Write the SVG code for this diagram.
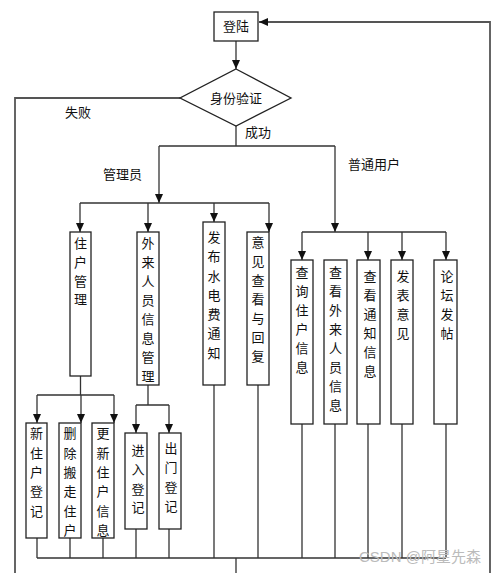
<svg xmlns="http://www.w3.org/2000/svg" width="499" height="573" viewBox="0 0 499 573">
<style>
.box{fill:#fff;stroke:#222;stroke-width:1.3}
.ln{fill:none;stroke:#333;stroke-width:1.3}
.loop{fill:none;stroke:#555;stroke-width:1.8}
.t{font-family:"Noto Sans CJK SC","Noto Sans CJK TC",sans-serif;font-size:13px;fill:#111}
.tc{text-anchor:middle}
.wm{font-family:"Liberation Sans","Noto Sans CJK SC",sans-serif;font-size:15px;fill:#bbb}
</style>
<defs>
<marker id="ah" markerUnits="userSpaceOnUse" markerWidth="10" markerHeight="10" refX="9" refY="4" orient="auto">
<path d="M0,0 L9,4 L0,8 Z" fill="#111"/>
</marker>
</defs>
<rect width="499" height="573" fill="#fff"/>
<g id="connectors">
<path class="ln" d="M236,41 V69" marker-end="url(#ah)"/>
<path class="loop" d="M180,98 H15 V573"/>
<path class="loop" d="M490,573 V22 H259" marker-end="url(#ah)"/>
<path class="ln" d="M236,126 V146 M159,146 H335"/>
<path class="ln" d="M159,146 V203" marker-end="url(#ah)"/>
<path class="ln" d="M80,203 H269"/>
<path class="ln" d="M80,203 V232" marker-end="url(#ah)"/>
<path class="ln" d="M148,203 V232" marker-end="url(#ah)"/>
<path class="ln" d="M214,203 V222" marker-end="url(#ah)"/>
<path class="ln" d="M269,203 V232" marker-end="url(#ah)"/>
<path class="ln" d="M335,146 V232" marker-end="url(#ah)"/>
<path class="ln" d="M302,232 H446"/>
<path class="ln" d="M302,232 V260" marker-end="url(#ah)"/>
<path class="ln" d="M368,232 V260" marker-end="url(#ah)"/>
<path class="ln" d="M402,232 V260" marker-end="url(#ah)"/>
<path class="ln" d="M446,232 V260" marker-end="url(#ah)"/>
<path class="ln" d="M80.5,376 V395 M37,395 H114"/>
<path class="ln" d="M37,395 V423" marker-end="url(#ah)"/>
<path class="ln" d="M81,395 V423" marker-end="url(#ah)"/>
<path class="ln" d="M114,395 V423" marker-end="url(#ah)"/>
<path class="ln" d="M148,385 V405 M136,405 H169"/>
<path class="ln" d="M136,405 V433" marker-end="url(#ah)"/>
<path class="ln" d="M169,405 V433" marker-end="url(#ah)"/>
<path class="ln" d="M37,538 V558 M70,538 V558 M103,538 V558 M136,529 V558 M169,529 V558 M214,385 V558 M258,385 V558 M302,424 V558 M335,424 V558 M368,424 V558 M402,424 V558 M446,424 V558"/>
<path class="ln" d="M37,558 H446 M236,558 V573"/>
</g>
<g id="labels">
<text class="t tc" x="78" y="117">失败</text>
<text class="t" x="245" y="137">成功</text>
<text class="t" x="103" y="179">管理员</text>
<text class="t" x="348" y="169">普通用户</text>
</g>
<g id="login">
<rect class="box" x="214" y="12" width="44" height="29"/>
<text class="t tc" x="236" y="31">登陆</text>
</g>
<g id="auth">
<polygon class="box" points="236,69 291,98 236,126 180,98"/>
<text class="t tc" x="236" y="103">身份验证</text>
</g>
<g id="resident-mgmt">
<rect class="box" x="70" y="232" width="21" height="144"/>
<text class="t tc"><tspan x="80.5" y="248">住</tspan><tspan x="80.5" y="267">户</tspan><tspan x="80.5" y="286">管</tspan><tspan x="80.5" y="304">理</tspan></text>
</g>
<g id="visitor-mgmt">
<rect class="box" x="137" y="232" width="22" height="153"/>
<text class="t tc"><tspan x="148" y="248">外</tspan><tspan x="148" y="267">来</tspan><tspan x="148" y="286">人</tspan><tspan x="148" y="305">员</tspan><tspan x="148" y="324">信</tspan><tspan x="148" y="343">息</tspan><tspan x="148" y="362">管</tspan><tspan x="148" y="381">理</tspan></text>
</g>
<g id="publish-notice">
<rect class="box" x="203" y="222" width="22" height="163"/>
<text class="t tc"><tspan x="214" y="242">发</tspan><tspan x="214" y="261">布</tspan><tspan x="214" y="281">水</tspan><tspan x="214" y="300">电</tspan><tspan x="214" y="319">费</tspan><tspan x="214" y="338">通</tspan><tspan x="214" y="358">知</tspan></text>
</g>
<g id="feedback-reply">
<rect class="box" x="247" y="232" width="22" height="153"/>
<text class="t tc"><tspan x="258" y="247">意</tspan><tspan x="258" y="266">见</tspan><tspan x="258" y="285">查</tspan><tspan x="258" y="304">看</tspan><tspan x="258" y="323">与</tspan><tspan x="258" y="342">回</tspan><tspan x="258" y="361">复</tspan></text>
</g>
<g id="new-resident">
<rect class="box" x="26" y="423" width="21" height="115"/>
<text class="t tc"><tspan x="36.5" y="438">新</tspan><tspan x="36.5" y="458">住</tspan><tspan x="36.5" y="477">户</tspan><tspan x="36.5" y="496">登</tspan><tspan x="36.5" y="516">记</tspan></text>
</g>
<g id="delete-resident">
<rect class="box" x="59" y="423" width="22" height="115"/>
<text class="t tc"><tspan x="70" y="438">删</tspan><tspan x="70" y="458">除</tspan><tspan x="70" y="477">搬</tspan><tspan x="70" y="496">走</tspan><tspan x="70" y="516">住</tspan><tspan x="70" y="535">户</tspan></text>
</g>
<g id="update-resident">
<rect class="box" x="92" y="423" width="22" height="115"/>
<text class="t tc"><tspan x="103" y="438">更</tspan><tspan x="103" y="458">新</tspan><tspan x="103" y="477">住</tspan><tspan x="103" y="496">户</tspan><tspan x="103" y="516">信</tspan><tspan x="103" y="535">息</tspan></text>
</g>
<g id="entry-log">
<rect class="box" x="125" y="433" width="22" height="96"/>
<text class="t tc"><tspan x="138" y="455">进</tspan><tspan x="138" y="474">入</tspan><tspan x="138" y="494">登</tspan><tspan x="138" y="512">记</tspan></text>
</g>
<g id="exit-log">
<rect class="box" x="159" y="433" width="22" height="96"/>
<text class="t tc"><tspan x="171" y="453">出</tspan><tspan x="171" y="472">门</tspan><tspan x="171" y="492">登</tspan><tspan x="171" y="511">记</tspan></text>
</g>
<g id="query-resident">
<rect class="box" x="291" y="260" width="22" height="164"/>
<text class="t tc"><tspan x="302" y="277">查</tspan><tspan x="302" y="296">询</tspan><tspan x="302" y="315">住</tspan><tspan x="302" y="334">户</tspan><tspan x="302" y="353">信</tspan><tspan x="302" y="372">息</tspan></text>
</g>
<g id="view-visitor">
<rect class="box" x="324" y="260" width="23" height="164"/>
<text class="t tc"><tspan x="335.5" y="277">查</tspan><tspan x="335.5" y="296">看</tspan><tspan x="335.5" y="315">外</tspan><tspan x="335.5" y="334">来</tspan><tspan x="335.5" y="353">人</tspan><tspan x="335.5" y="372">员</tspan><tspan x="335.5" y="391">信</tspan><tspan x="335.5" y="410">息</tspan></text>
</g>
<g id="view-notice">
<rect class="box" x="357" y="260" width="23" height="164"/>
<text class="t tc"><tspan x="370" y="281">查</tspan><tspan x="370" y="300">看</tspan><tspan x="370" y="319">通</tspan><tspan x="370" y="338">知</tspan><tspan x="370" y="357">信</tspan><tspan x="370" y="376">息</tspan></text>
</g>
<g id="post-feedback">
<rect class="box" x="391" y="260" width="22" height="164"/>
<text class="t tc"><tspan x="403" y="281">发</tspan><tspan x="403" y="300">表</tspan><tspan x="403" y="319">意</tspan><tspan x="403" y="338">见</tspan></text>
</g>
<g id="forum-post">
<rect class="box" x="434" y="260" width="23" height="164"/>
<text class="t tc"><tspan x="447" y="281">论</tspan><tspan x="447" y="300">坛</tspan><tspan x="447" y="319">发</tspan><tspan x="447" y="338">帖</tspan></text>
</g>
<text class="wm" x="359" y="562">CSDN @阿星先森</text>
</svg>
